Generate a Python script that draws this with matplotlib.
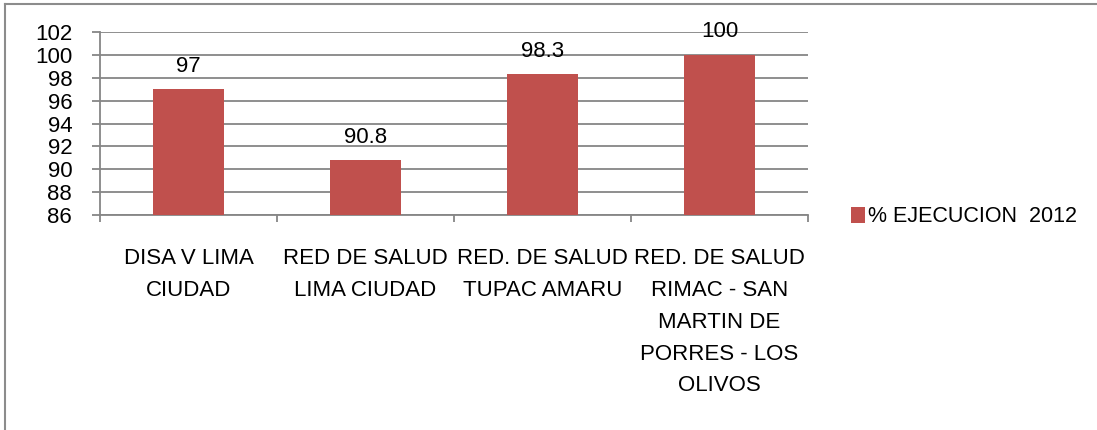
import matplotlib
matplotlib.use("Agg")
import matplotlib.pyplot as plt
from matplotlib.lines import Line2D
from matplotlib.patches import Patch

categories = [
    "DISA V LIMA\nCIUDAD",
    "RED DE SALUD\nLIMA CIUDAD",
    "RED. DE SALUD\nTUPAC AMARU",
    "RED. DE SALUD\nRIMAC - SAN\nMARTIN DE\nPORRES - LOS\nOLIVOS",
]
values = [97, 90.8, 98.3, 100]
value_labels = ["97", "90.8", "98.3", "100"]
series_name = "% EJECUCION  2012"
y_ticks = [86, 88, 90, 92, 94, 96, 98, 100, 102]

bar_color = "#C0504D"
grid_color = "#868686"

plt.rcParams["font.family"] = ["Liberation Sans", "DejaVu Sans"]

fig = plt.figure(figsize=(10.97, 4.30), dpi=100)
ax = fig.add_axes([100 / 1097, 1 - 215 / 430, 708 / 1097, 183 / 430])

x = list(range(len(values)))
ax.bar(x, [v - 86 for v in values], bottom=86, width=0.4, color=bar_color, zorder=3)

ax.set_xlim(-0.5, len(values) - 0.5)
ax.set_ylim(86, 102)
ax.set_yticks(y_ticks)
ax.set_yticklabels([str(t) for t in y_ticks], fontsize=16)
ax.yaxis.grid(True, color=grid_color, linewidth=1.3, zorder=0)
ax.tick_params(axis="y", length=6, width=1.3, color=grid_color, pad=14)

ax.set_xticks([i - 0.5 for i in range(len(values) + 1)])
ax.set_xticklabels([])
ax.tick_params(axis="x", length=5, width=1.3, color=grid_color)

for side in ["top", "right"]:
    ax.spines[side].set_visible(False)
for side in ["left", "bottom"]:
    ax.spines[side].set_color(grid_color)
    ax.spines[side].set_linewidth(1.3)

for xi, v, lab in zip(x, values, value_labels):
    ax.annotate(lab, (xi, v), xytext=(0, 9), textcoords="offset points",
                ha="center", va="bottom", fontsize=16)

for xi, cat in zip(x, categories):
    ax.text(xi, -0.18, cat, transform=ax.get_xaxis_transform(), ha="center",
            va="top", fontsize=16, linespacing=1.68)

handles = [Patch(facecolor=bar_color, label=series_name)]
fig.legend(handles=handles, loc="center left", bbox_to_anchor=(840 / 1097, 1 - 217 / 430),
           frameon=False, fontsize=15.5, handlelength=0.65, handleheight=0.7,
           handletextpad=0.15, borderpad=0)

# outer chart border (only top and left visible in the crop)
fig.add_artist(Line2D([5 / 1097, 5 / 1097], [0, 1 - 4 / 430], transform=fig.transFigure,
                      color="#8c8c8c", linewidth=1.5))
fig.add_artist(Line2D([5 / 1097, 1], [1 - 4 / 430, 1 - 4 / 430], transform=fig.transFigure,
                      color="#8c8c8c", linewidth=1.5))

fig.savefig("out.png", dpi=100)
